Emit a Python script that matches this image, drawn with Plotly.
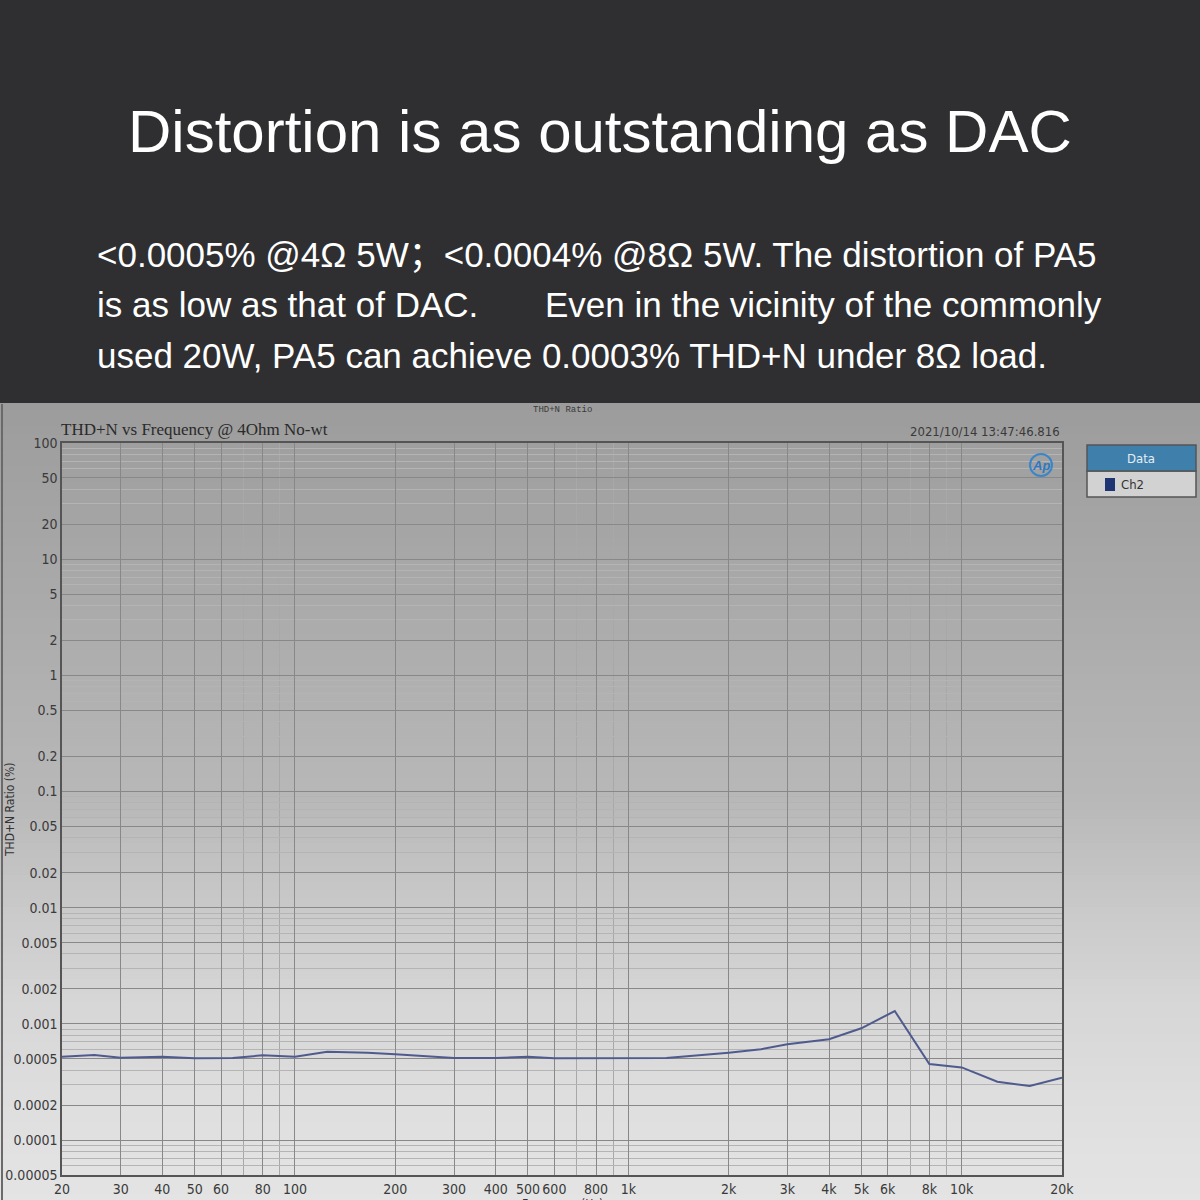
import math
import plotly.graph_objects as go

# ---------------- data ----------------
freq_hz = [20, 25, 30, 40, 50, 65, 80, 100, 125, 165, 200, 300, 400, 500, 600,
           1000, 1300, 2000, 2500, 3000, 3300, 4000, 5000, 6300, 8000, 10000,
           12800, 16000, 20000]
thdn_pct = [0.00052, 0.00054, 0.00051, 0.00052, 0.000505, 0.000508, 0.000536,
            0.00052, 0.000575, 0.000565, 0.000547, 0.000508, 0.000508, 0.00052,
            0.000505, 0.000505, 0.000508, 0.000565, 0.000604, 0.000667, 0.00069,
            0.000736, 0.000916, 0.00129, 0.000451, 0.000422, 0.000318, 0.000292,
            0.000344]

x_tick_vals = [20, 30, 40, 50, 60, 80, 100, 200, 300, 400, 500, 600, 800,
               1000, 2000, 3000, 4000, 5000, 6000, 8000, 10000, 20000]
x_tick_text = ["20", "30", "40", "50", "60", "80", "100", "200", "300", "400",
               "500", "600", "800", "1k", "2k", "3k", "4k", "5k", "6k", "8k",
               "10k", "20k"]
x_minor_vals = [70, 90, 700, 900, 7000, 9000]

y_tick_vals = [100, 50, 20, 10, 5, 2, 1, 0.5, 0.2, 0.1, 0.05, 0.02, 0.01,
               0.005, 0.002, 0.001, 0.0005, 0.0002, 0.0001, 0.00005]
y_tick_text = ["100", "50", "20", "10", "5", "2", "1", "0.5", "0.2", "0.1",
               "0.05", "0.02", "0.01", "0.005", "0.002", "0.001", "0.0005",
               "0.0002", "0.0001", "0.00005"]
y_minor_vals = [m * 10.0 ** e for e in range(-5, 2) for m in (3, 4, 6, 7, 8, 9)
                if 0.00005 < m * 10.0 ** e < 100]

title_text = "Distortion is as outstanding as DAC"
para_line1 = "<0.0005% @4Ω 5W；<0.0004% @8Ω 5W. The distortion of PA5"
para_line2a = "is as low as that of DAC."
para_line2b = "Even in the vicinity of the commonly"
para_line3 = "used 20W, PA5 can achieve 0.0003% THD+N under 8Ω load."
chart_title = "THD+N vs Frequency @ 4Ohm No-wt"
timestamp = "2021/10/14 13:47:46.816"

# ---------------- layout geometry (pixels) ----------------
W, H = 1200, 1200
L, R, T, B = 62, 1062, 443, 1175


def px(xp):
    return (xp - L) / (R - L)


def py(yp):
    return (B - yp) / (B - T)


shapes = []
# gradient background for the chart region
stops = [(403, 156), (600, 170), (800, 184), (900, 200), (1000, 214),
         (1100, 222), (1200, 228)]


def grey_at(y):
    for (y0, g0), (y1, g1) in zip(stops[:-1], stops[1:]):
        if y0 <= y <= y1:
            return g0 + (g1 - g0) * (y - y0) / (y1 - y0)
    return stops[-1][1]


band = 8
y = 403
while y < 1200:
    g = int(round(grey_at(y + band / 2)))
    shapes.append(dict(type="rect", xref="paper", yref="paper",
                       x0=px(-2), x1=px(W + 2), y0=py(y + band + 0.5), y1=py(y),
                       fillcolor=f"rgb({g},{g},{g})", line=dict(width=0),
                       layer="below"))
    y += band

# dark banner
shapes.append(dict(type="rect", xref="paper", yref="paper", x0=px(-2), x1=px(W + 2),
                   y0=py(403), y1=py(-2), fillcolor="#2f2f31",
                   line=dict(width=0), layer="below"))
# left edge line of screenshot
shapes.append(dict(type="line", xref="paper", yref="paper", x0=px(2), x1=px(2),
                   y0=py(1200), y1=py(404), line=dict(color="#6a6a6a", width=2)))

# legend box
shapes.append(dict(type="rect", xref="paper", yref="paper", x0=px(1087), x1=px(1196),
                   y0=py(497), y1=py(471), fillcolor="#d2d2d2",
                   line=dict(color="#555555", width=1.5)))
shapes.append(dict(type="rect", xref="paper", yref="paper", x0=px(1087), x1=px(1196),
                   y0=py(471), y1=py(445), fillcolor="#3f7fab",
                   line=dict(color="#555555", width=1.5)))
shapes.append(dict(type="rect", xref="paper", yref="paper", x0=px(1105), x1=px(1115),
                   y0=py(491), y1=py(478), fillcolor="#1f3573",
                   line=dict(width=0)))
# AP logo ring
shapes.append(dict(type="circle", xref="paper", yref="paper", x0=px(1030), x1=px(1052),
                   y0=py(476), y1=py(454), line=dict(color="#3a86c8", width=2)))

anns = []
white_font = "Liberation Sans, Arial, Noto Sans CJK SC, sans-serif"
anns.append(dict(text=title_text, x=px(600), y=py(131), xref="paper", yref="paper",
                 xanchor="center", yanchor="middle", showarrow=False,
                 font=dict(family=white_font, size=60, color="#ffffff")))
for txt, xx, yy, anc in [(para_line1, 95, 255, "left"), (para_line2a, 95, 305, "left"),
                         (para_line2b, 1104, 305, "right"), (para_line3, 95, 355, "left")]:
    anns.append(dict(text=txt, x=px(xx), y=py(yy), xref="paper", yref="paper",
                     xanchor=anc, yanchor="middle", showarrow=False,
                     font=dict(family=white_font, size=35, color="#ffffff")))

small_font = "Liberation Sans Narrow, DejaVu Sans Condensed, Noto Sans, sans-serif"
anns.append(dict(text=chart_title, x=px(59), y=py(430), xref="paper", yref="paper",
                 xanchor="left", yanchor="middle", showarrow=False,
                 font=dict(family="Liberation Serif, Times New Roman, serif", size=17,
                           color="#2a2a2a")))
anns.append(dict(text="THD+N Ratio", x=px(562), y=py(410), xref="paper", yref="paper",
                 xanchor="center", yanchor="middle", showarrow=False,
                 font=dict(family="Liberation Mono, DejaVu Sans Mono, monospace", size=9,
                           color="#3a3a3a")))
anns.append(dict(text=timestamp, x=px(1062), y=py(431), xref="paper", yref="paper",
                 xanchor="right", yanchor="middle", showarrow=False,
                 font=dict(family=small_font, size=13, color="#3a3a3a")))
anns.append(dict(text="<b><i>Ap</i></b>", x=px(1041), y=py(465), xref="paper", yref="paper",
                 xanchor="center", yanchor="middle", showarrow=False,
                 font=dict(family="Liberation Sans, sans-serif", size=13, color="#2f78c0")))
anns.append(dict(text="Data", x=px(1141), y=py(458), xref="paper", yref="paper",
                 xanchor="center", yanchor="middle", showarrow=False,
                 font=dict(family=small_font, size=13, color="#e6eef5")))
anns.append(dict(text="Ch2", x=px(1119), y=py(485), xref="paper", yref="paper",
                 xanchor="left", yanchor="middle", showarrow=False,
                 font=dict(family=small_font, size=13, color="#333333")))
anns.append(dict(text="THD+N Ratio (%)", x=px(10), y=py(810), xref="paper", yref="paper",
                 xanchor="center", yanchor="middle", showarrow=False, textangle=-90,
                 font=dict(family=small_font, size=12, color="#333333")))
anns.append(dict(text="Frequency (Hz)", x=px(562), y=py(1204), xref="paper", yref="paper",
                 xanchor="center", yanchor="middle", showarrow=False,
                 font=dict(family=small_font, size=12, color="#333333")))

fig = go.Figure()
fig.add_trace(go.Scatter(x=freq_hz, y=thdn_pct, mode="lines", name="Ch2",
                         line=dict(color="#4f5b8e", width=2), showlegend=False))

tick_font = dict(family=small_font, size=14, color="#3a3a3a")
fig.update_xaxes(type="log", range=[math.log10(20), math.log10(20000)],
                 tickmode="array", tickvals=x_tick_vals, ticktext=x_tick_text,
                 showgrid=True, gridcolor="#888888", gridwidth=1,
                 minor=dict(tickvals=x_minor_vals, showgrid=True, gridcolor="#a8a8a8",
                            gridwidth=1, ticks=""),
                 showline=True, linecolor="#555555", linewidth=1.5, mirror=True,
                 ticks="", tickfont=tick_font, zeroline=False, automargin=False)
fig.update_yaxes(type="log", range=[math.log10(0.00005), 2],
                 tickmode="array", tickvals=y_tick_vals, ticktext=y_tick_text,
                 showgrid=True, gridcolor="#888888", gridwidth=1,
                 minor=dict(tickvals=y_minor_vals, showgrid=True, gridcolor="#b4b4b4",
                            gridwidth=1, ticks=""),
                 showline=True, linecolor="#555555", linewidth=1.5, mirror=True,
                 ticks="", tickfont=tick_font, zeroline=False, automargin=False)

fig.update_layout(width=W, height=H, margin=dict(l=L, r=W - R, t=T, b=H - B, pad=0,
                                                 autoexpand=False),
                  paper_bgcolor="rgba(0,0,0,0)", plot_bgcolor="rgba(0,0,0,0)",
                  shapes=shapes, annotations=anns, showlegend=False)

fig.write_html("out.html", config={"displayModeBar": False},
               post_script="document.body.style.margin='0';document.body.style.padding='0';"
                           "document.body.style.overflow='hidden';")
